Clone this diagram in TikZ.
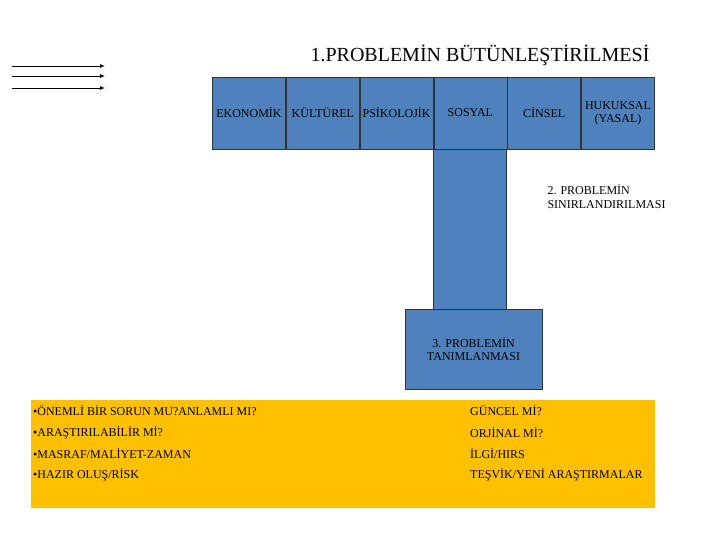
\documentclass[tikz,border=0pt]{standalone}
\usepackage{fontspec}
\setmainfont{Liberation Serif}
\usetikzlibrary{arrows.meta,positioning}
\definecolor{boxblue}{RGB}{79,129,189}
\definecolor{boxyellow}{RGB}{255,192,0}
\tikzset{
  topic/.style={ % blue boxes in the top row
    rectangle,draw=black!80,fill=boxblue,thick,
    minimum width=73pt,minimum height=72pt,
    inner sep=1pt,align=center,font=\fontsize{12}{13}\selectfont,
  },
  item/.style={ % lines in the yellow box
    anchor=west,font=\fontsize{12}{13}\selectfont,inner sep=0pt,
  },
  arr/.style={ % arrows at the top left
    -{Latex[length=5pt,width=4pt]},thick,
  },
}
\begin{document}
\begin{tikzpicture}[x=1pt,y=-1pt]
	\useasboundingbox (0,0) rectangle (720,540);
	
	\node[font=\fontsize{20}{22}\selectfont] (title) at (480,55) {1.PROBLEMİN BÜTÜNLEŞTİRİLMESİ};
	
	% arrows
	\coordinate (a1) at (12,66); \coordinate (b1) at (105,66);
	\coordinate (a2) at (12,76); \coordinate (b2) at (105,76);
	\coordinate (a3) at (12,88); \coordinate (b3) at (105,88);
	\draw[arr] (a1) -- (b1);
	\draw[arr] (a2) -- (b2);
	\draw[arr] (a3) -- (b3);
	
	% column and lower box
	\node[topic,minimum height=160pt] (col) at (470,229) {};
	\node[topic,minimum width=137pt,minimum height=80pt] (tanim) at (473.5,349) {3. PROBLEMİN\\TANIMLANMASI};
	
	% top row
	\node[topic] (eko) at (249,113) {EKONOMİK};
	\node[topic] (kul) [right=0pt of eko] {KÜLTÜREL};
	\node[topic] (psi) [right=0pt of kul] {PSİKOLOJİK};
	\node[topic] (sos) [right=0pt of psi] {SOSYAL};
	\node[topic] (cin) [right=0pt of sos] {CİNSEL};
	\node[topic] (huk) [right=0pt of cin] {HUKUKSAL\\(YASAL)};
	
	\node[align=left,anchor=west,font=\fontsize{12}{14}\selectfont] (sinir) at (544,197) {2. PROBLEMİN\\SINIRLANDIRILMASI};
	
	% yellow box
	\node[rectangle,fill=boxyellow,minimum width=624pt,minimum height=108pt,anchor=north west] (yel) at (31,400) {};
	\node[item] (l1) at (33,411) {•ÖNEMLİ BİR SORUN MU?ANLAMLI MI?};
	\node[item] (l2) at (33,433) {•ARAŞTIRILABİLİR Mİ?};
	\node[item] (l3) at (33,454) {•MASRAF/MALİYET-ZAMAN};
	\node[item] (l4) at (33,475) {•HAZIR OLUŞ/RİSK};
	\node[item] (r1) at (470,411) {GÜNCEL Mİ?};
	\node[item] (r2) at (470,433) {ORJİNAL Mİ?};
	\node[item] (r3) at (470,454) {İLGİ/HIRS};
	\node[item] (r4) at (470,475) {TEŞVİK/YENİ ARAŞTIRMALAR};
\end{tikzpicture}
\end{document}
